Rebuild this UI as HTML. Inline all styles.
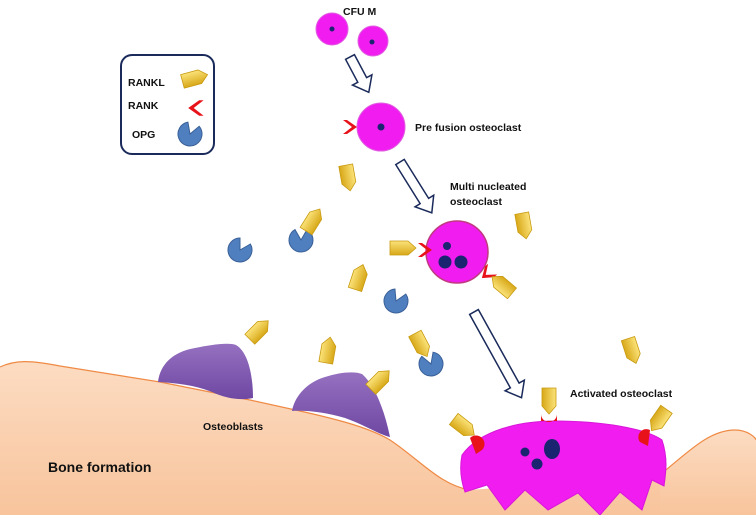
<!DOCTYPE html>
<html><head><style>html,body{margin:0;padding:0;background:#fff}svg{display:block}text{font-family:"Liberation Sans",sans-serif;font-weight:bold;fill:#111}</style></head>
<body>
<svg width="756" height="515" viewBox="0 0 756 515" xmlns="http://www.w3.org/2000/svg">
<defs>
<linearGradient id="bone" x1="0" y1="0" x2="0" y2="1"><stop offset="0" stop-color="#fcdcc2"/><stop offset="1" stop-color="#f8c49c"/></linearGradient>
<linearGradient id="yel" x1="0" y1="0" x2="0" y2="1"><stop offset="0" stop-color="#fbe37a"/><stop offset="1" stop-color="#d8a818"/></linearGradient>
<linearGradient id="pur" x1="0" y1="0" x2="0" y2="1"><stop offset="0" stop-color="#9670c0"/><stop offset="1" stop-color="#6e48a2"/></linearGradient>
<g id="rankl"><path d="M-13,-7 L5,-7 L13,0 L5,7 L-13,7 Z" fill="url(#yel)" stroke="#c89a10" stroke-width="0.8"/></g>
<g id="opg"><path d="M0,0 L12,0 A12,12 0 1 1 6,-10.4 Z" fill="#4f7fbf" stroke="#3a6098" stroke-width="1"/></g>
<g id="rank"><path d="M6,-7 L-3,0 L6,7 L2,7 L-8,0 L2,-7Z" fill="#e8121a"/></g>
</defs>
<!-- bone -->
<path d="M0,367 C15,360 30,360 60,366 L160,382 L250,400 L300,411 C340,420 370,428 390,440 C420,460 440,485 470,490 L665,475 L665,515 L0,515 Z" fill="url(#bone)"/>
<path d="M0,367 C15,360 30,360 60,366 L160,382 L250,400 L300,411 C340,420 370,428 390,440 C420,460 440,485 470,490" fill="none" stroke="#ef8a45" stroke-width="1.2"/>
<path d="M660,475 C690,450 710,430 735,430 C748,430 756,438 756,440 L756,515 L660,515 Z" fill="url(#bone)"/>
<path d="M660,475 C690,450 710,430 735,430 C748,430 756,438 756,440" fill="none" stroke="#ef8a45" stroke-width="1.2"/>
<!-- osteoblasts -->
<path d="M158,382 C160,365 172,352 195,348 C210,345 228,342 236,345 C248,352 253,375 253,398 C240,401 225,398 212,392 C195,385 175,383 158,382Z" fill="url(#pur)"/>
<path d="M292,411 C295,395 308,382 325,377 C340,372 355,371 362,374 C375,385 385,412 390,437 C380,435 365,425 345,418 C325,412 305,410 292,411Z" fill="url(#pur)"/>
<!-- legend -->
<rect x="121" y="55" width="93" height="99" rx="11" fill="#fff" stroke="#1a2a5a" stroke-width="2"/>
<text x="128" y="86" font-size="10.5">RANKL</text>
<text x="128" y="109" font-size="10.5">RANK</text>
<text x="132" y="138" font-size="10.5">OPG</text>
<use href="#rankl" transform="translate(195,78) rotate(-15)"/>
<use href="#rank" transform="translate(197,108) scale(1.1)"/>
<use href="#opg" transform="translate(190,134) rotate(-40)"/>
<!-- arrows -->
<g fill="#fff" stroke="#1a2a5a" stroke-width="1.5">
<path d="M0,-5 L26,-5 L26,-11 L40,0 L26,11 L26,5 L0,5 Z" transform="translate(350,57) rotate(62)"/>
<path d="M0,-5 L46,-5 L46,-11 L60,0 L46,11 L46,5 L0,5 Z" transform="translate(400,162) rotate(58)"/>
<path d="M0,-5 L84,-5 L84,-11 L98,0 L84,11 L84,5 L0,5 Z" transform="translate(474,312) rotate(61)"/>
</g>
<!-- CFU M -->
<text x="343" y="15" font-size="10.5">CFU M</text>
<circle cx="332" cy="29" r="16" fill="#f01cf0" stroke="#e060e0"/>
<circle cx="332" cy="29" r="2.5" fill="#1a2470"/>
<circle cx="373" cy="41" r="15" fill="#f01cf0" stroke="#e060e0"/>
<circle cx="372" cy="42" r="2.5" fill="#1a2470"/>
<!-- pre fusion -->
<circle cx="381" cy="127" r="24" fill="#f01cf0" stroke="#e060e0"/>
<circle cx="381" cy="127" r="3.5" fill="#1a2470"/>
<use href="#rank" transform="translate(349,127) rotate(180)"/>
<text x="415" y="131" font-size="10.5">Pre fusion osteoclast</text>
<!-- multi -->
<text x="450" y="190" font-size="10.5">Multi nucleated</text>
<text x="450" y="205" font-size="10.5">osteoclast</text>
<circle cx="457" cy="252" r="31" fill="#f01cf0" stroke="#c03a80" stroke-width="1.5"/>
<circle cx="447" cy="246" r="4" fill="#1a2470"/>
<circle cx="445" cy="262" r="6.5" fill="#1a2470"/>
<circle cx="461" cy="262" r="6.5" fill="#1a2470"/>
<use href="#rank" transform="translate(424,250) rotate(180)"/>
<use href="#rank" transform="translate(488,273) rotate(-40)"/>
<use href="#rankl" transform="translate(403,248)"/>
<use href="#rankl" transform="translate(502,285) rotate(-140)"/>
<!-- activated osteoclast -->
<path d="M462,455 C480,430 520,421 555,421 C600,421 645,428 662,440 C668,458 666,472 664,486 L652,480 L642,510 L620,492 L600,515 L578,493 L548,510 L525,490 L505,510 L487,485 L465,492 C460,478 460,465 462,455 Z" fill="#f01cf0" stroke="#d818d8"/>
<circle cx="525" cy="452" r="4.5" fill="#1a2470"/>
<ellipse cx="552" cy="449" rx="8" ry="10" fill="#1a2470"/>
<circle cx="537" cy="464" r="5.5" fill="#1a2470"/>
<path d="M541,414 A8,8 0 0 0 557,414 L557,421 L541,421Z" fill="#e8121a"/>
<path d="M470,438 A8,8 0 0 1 482,450 L476,454Z" fill="#e8121a"/>
<path d="M650,430 A8,8 0 0 0 640,442 L648,446Z" fill="#e8121a"/>
<use href="#rankl" transform="translate(549,401) rotate(90)"/>
<use href="#rankl" transform="translate(464,427) rotate(38)"/>
<use href="#rankl" transform="translate(659,420) rotate(125)"/>
<text x="570" y="397" font-size="10.5">Activated osteoclast</text>
<text x="203" y="430" font-size="10.5">Osteoblasts</text>
<text x="48" y="472" font-size="14">Bone formation</text>
<!-- free RANKL / OPG -->
<use href="#rankl" transform="translate(348,178) rotate(80)"/>
<use href="#opg" transform="translate(240,250) rotate(-30)"/>
<use href="#opg" transform="translate(301,240) rotate(-60)"/>
<use href="#rankl" transform="translate(313,220) rotate(-58)"/>
<use href="#rankl" transform="translate(524,226) rotate(80)"/>
<use href="#rankl" transform="translate(359,277) rotate(-72)"/>
<use href="#opg" transform="translate(396,301) rotate(-35)"/>
<use href="#rankl" transform="translate(259,330) rotate(-45)"/>
<use href="#rankl" transform="translate(328,350) rotate(-80)"/>
<use href="#rankl" transform="translate(380,380) rotate(-45)"/>
<use href="#rankl" transform="translate(421,345) rotate(62)"/>
<use href="#opg" transform="translate(431,364) rotate(-80)"/>
<use href="#rankl" transform="translate(632,351) rotate(72)"/>
</svg>
</body></html>
